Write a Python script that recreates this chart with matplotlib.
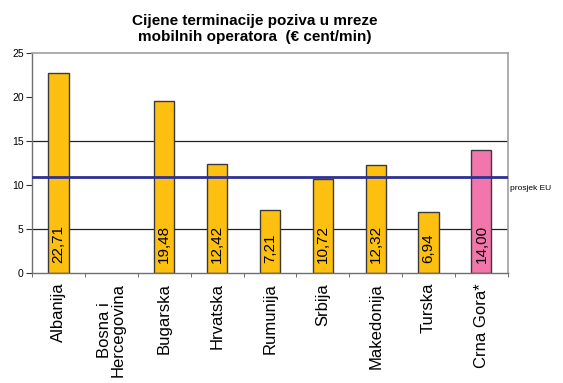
import matplotlib
matplotlib.use("Agg")
import matplotlib.pyplot as plt
import numpy as np

plt.rcParams['font.family'] = ['Liberation Sans', 'DejaVu Sans']

countries = ["Albanija", "Bosna i\nHercegovina", "Bugarska", "Hrvatska", "Rumunija",
             "Srbija", "Makedonija", "Turska", "Crna Gora*"]
prices = [22.71, np.nan, 19.48, 12.42, 7.21, 10.72, 12.32, 6.94, 14.00]
bar_colors = ["#FDC010"] * 8 + ["#F276AC"]
eu_average = 10.9
y_ticks = [0, 5, 10, 15, 20, 25]

fig = plt.figure(figsize=(5.63, 3.83), dpi=100)
ax = fig.add_axes([0.057, 0.287, 0.845, 0.575])

x = np.arange(len(countries))
for yv in (5, 15):
    ax.axhline(yv, color="#222222", lw=0.9, zorder=1)

# skip categories without data so no empty outline is drawn
has_data = [not np.isnan(v) for v in prices]
ax.bar(x[has_data], np.array(prices)[has_data], width=0.38,
       color=[c for c, h in zip(bar_colors, has_data) if h],
       edgecolor="#3a3a3a", linewidth=1.0, zorder=2)

for xi, v in zip(x, prices):
    if np.isnan(v):
        continue
    ax.text(xi, 1.1, f"{v:.2f}".replace(".", ","), rotation=90, ha="center",
            va="bottom", fontsize=11, color="black", zorder=3)

ax.axhline(eu_average, color="#2E3192", lw=2.0, zorder=4)
ax.text(len(countries) - 0.5 + 0.04, eu_average - 1.3, "prosjek EU",
        fontsize=6, ha="left", va="center", color="black")

ax.set_xlim(-0.5, len(countries) - 0.5)
ax.set_ylim(0, 25)
ax.set_yticks(y_ticks)
ax.set_yticklabels([str(t) for t in y_ticks], fontsize=7.5)
ax.set_xticks(x)
ax.set_xticklabels(countries, rotation=90, fontsize=12, va="top", ha="center",
                   linespacing=0.92)
ax.tick_params(axis="x", length=0, pad=7)
ax.set_xticks(np.arange(len(countries) + 1) - 0.5, minor=True)
ax.tick_params(axis="x", which="minor", length=3, color="#555555")
ax.tick_params(axis="y", length=4, color="#333333", pad=2)

for side in ("top", "right"):
    ax.spines[side].set_color("#a0a0a0")
    ax.spines[side].set_linewidth(1.2)
for side in ("left", "bottom"):
    ax.spines[side].set_color("#707070")
    ax.spines[side].set_linewidth(1.0)

fig.text(0.452, 0.963, "Cijene terminacije poziva u mreze\nmobilnih operatora  (€ cent/min)",
         ha="center", va="top", fontsize=11, fontweight="bold", linespacing=1.15)

fig.savefig("out.png", dpi=100)
